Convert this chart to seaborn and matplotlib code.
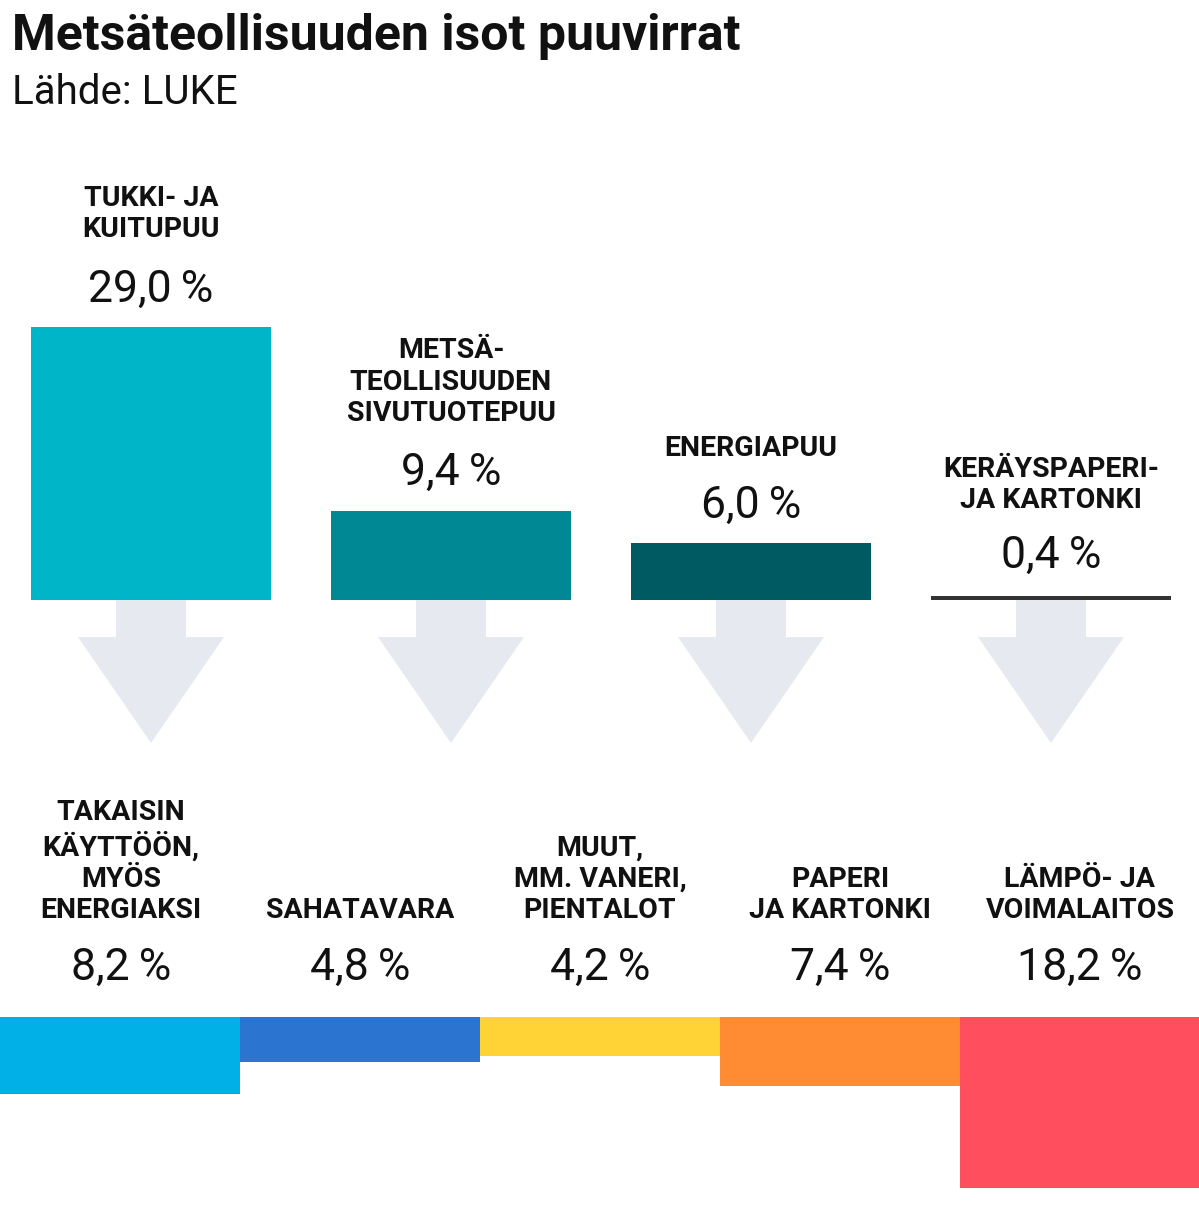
import matplotlib
matplotlib.use("Agg")
import matplotlib.pyplot as plt
from matplotlib.patches import Polygon
import seaborn as sns

sns.set_theme(style="white")

top_labels = ["TUKKI- JA\nKUITUPUU", "METSÄ-\nTEOLLISUUDEN\nSIVUTUOTEPUU", "ENERGIAPUU", "KERÄYSPAPERI-\nJA KARTONKI"]
top_values = [29.0, 9.4, 6.0, 0.4]
top_colors = ["#00b5c8", "#008894", "#005a62", "#333333"]

bot_labels = ["TAKAISIN\nKÄYTTÖÖN,\nMYÖS\nENERGIAKSI", "SAHATAVARA", "MUUT,\nMM. VANERI,\nPIENTALOT", "PAPERI\nJA KARTONKI", "LÄMPÖ- JA\nVOIMALAITOS"]
bot_values = [8.2, 4.8, 4.2, 7.4, 18.2]
bot_colors = ["#00b0e6", "#2b74d0", "#ffd335", "#ff8c33", "#ff4f5e"]

def fmt(v):
    return f"{v:.1f}".replace(".", ",") + "\u2009%"

W, H = 1199, 1215
fig = plt.figure(figsize=(W/100, H/100), dpi=100)
ax = fig.add_axes([0, 0, 1, 1])
ax.set_xlim(0, W)
ax.set_ylim(H, 0)
ax.axis("off")

SCALE_T = 9.42
SCALE_B = 9.38
base_top = 600
top_x = [151, 451, 751, 1051]
label_cy = [214, 382, 448, 485]
num_cy = [290, 473, 506, 556]

for i, v in enumerate(top_values):
    h = max(v * SCALE_T, 3)
    ax.bar(top_x[i], -h, bottom=base_top, width=240, color=top_colors[i], linewidth=0)
    cx = top_x[i]
    arrow = Polygon([(cx-35, 600), (cx+35, 600), (cx+35, 637), (cx+73, 637), (cx, 743),
                     (cx-73, 637), (cx-35, 637)], closed=True, color="#e6e9ef", lw=0)
    ax.add_patch(arrow)
    ax.text(cx, label_cy[i], top_labels[i], ha="center", va="center", family="Roboto",
            weight="bold", fontsize=20.5, color="#111111", linespacing=1.2)
    ax.text(cx, num_cy[i], fmt(v), ha="center", va="center", family="Roboto",
            fontsize=32, color="#111111")

bot_x = [121, 360, 600, 840, 1080]
for i, v in enumerate(bot_values):
    ax.bar(240*i + 120, v * SCALE_B, bottom=1017, width=240,
           color=bot_colors[i], linewidth=0)
    ax.text(bot_x[i], 924, bot_labels[i], ha="center", va="bottom", family="Roboto",
            weight="bold", fontsize=20.5, color="#111111", linespacing=1.2)
    ax.text(bot_x[i], 968, fmt(v), ha="center", va="center", family="Roboto",
            fontsize=32, color="#111111")

ax.text(12, 36, "Metsäteollisuuden isot puuvirrat", ha="left", va="center", family="Roboto",
        weight="bold", fontsize=36, color="#111111")
ax.text(12, 92, "Lähde: LUKE", ha="left", va="center", family="Roboto",
        fontsize=29, color="#111111")

fig.savefig("out.png", dpi=100)
